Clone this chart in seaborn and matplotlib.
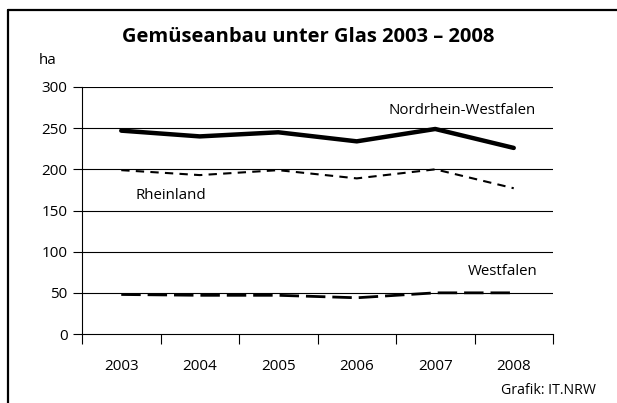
import matplotlib
matplotlib.use('Agg')
import matplotlib.pyplot as plt
import seaborn as sns
import pandas as pd

years = ['2003', '2004', '2005', '2006', '2007', '2008']
nrw = [247, 240, 245, 234, 249, 226]
rheinland = [199, 193, 199, 189, 200, 177]
westfalen = [48, 47, 47, 44, 50, 50]
y_ticks = [0, 50, 100, 150, 200, 250, 300]

sns.set_style('white')
plt.rcParams['font.family'] = ['Open Sans', 'DejaVu Sans']
plt.rcParams['text.color'] = 'black'
plt.rcParams['xtick.color'] = 'black'
plt.rcParams['ytick.color'] = 'black'

df = pd.DataFrame({'Jahr': years * 3,
                   'ha': nrw + rheinland + westfalen,
                   'Gebiet': ['Nordrhein-Westfalen'] * 6 + ['Rheinland'] * 6 + ['Westfalen'] * 6})

fig = plt.figure(figsize=(6.17, 4.03), dpi=100)
ax = fig.add_axes([82 / 617, 1 - 334 / 403, (553 - 82) / 617, (334 - 87) / 403])

for y in y_ticks[1:]:
    ax.axhline(y, color='black', lw=0.8, zorder=1)

styles = {'Nordrhein-Westfalen': dict(lw=3.2, dashes=None),
          'Rheinland': dict(lw=1.5, dashes=(4, 3)),
          'Westfalen': dict(lw=2.0, dashes=(7, 2.5))}
for name, st in styles.items():
    sub = df[df['Gebiet'] == name]
    sns.lineplot(data=sub, x='Jahr', y='ha', ax=ax, color='black', lw=st['lw'],
                 sort=False, zorder=3)
    l = ax.get_lines()[-1]
    if st['dashes']:
        l.set_dashes(st['dashes'])

ax.set_xlim(-0.5, 5.5)
ax.set_ylim(0, 300)
ax.set_yticks(y_ticks)
ax.set_xticks(range(len(years)))
ax.set_xticklabels(years)
ax.set_xticks([i - 0.5 for i in range(len(years) + 1)], minor=True)
ax.tick_params(axis='x', which='major', length=0, pad=18, labelsize=11)
ax.tick_params(axis='x', which='minor', length=7, width=0.8, color='black', direction='out', bottom=True)
ax.tick_params(axis='y', length=6.5, width=0.8, color='black', pad=4, labelsize=11, left=True)
ax.set_xlabel('')
ax.set_ylabel('')
for s in ['top', 'right']:
    ax.spines[s].set_visible(False)
for s in ['left', 'bottom']:
    ax.spines[s].set_color('black')
    ax.spines[s].set_linewidth(0.8)

ax.text(3.4, 271, 'Nordrhein-Westfalen', fontsize=10.8, ha='left', va='center')
ax.text(0.18, 168, 'Rheinland', fontsize=10.8, ha='left', va='center')
ax.text(4.42, 76, 'Westfalen', fontsize=10.8, ha='left', va='center')

fig.text(308 / 617, 1 - 37 / 403, 'Gemüseanbau unter Glas 2003 – 2008', fontsize=14.5,
         fontweight='bold', ha='center', va='center')
fig.text(48 / 617, 1 - 61 / 403, 'ha', fontsize=10.8, ha='center', va='center')
fig.text(596 / 617, 1 - 390 / 403, 'Grafik: IT.NRW', fontsize=10.2, ha='right', va='center')

# frame
fig.add_artist(plt.Line2D([7.5 / 617, 7.5 / 617], [0, 1 - 9.5 / 403], color='black', lw=1.6,
                          transform=fig.transFigure))
fig.add_artist(plt.Line2D([7.5 / 617, 1], [1 - 9.5 / 403, 1 - 9.5 / 403], color='black', lw=1.6,
                          transform=fig.transFigure))

fig.savefig('out.png', dpi=100)
